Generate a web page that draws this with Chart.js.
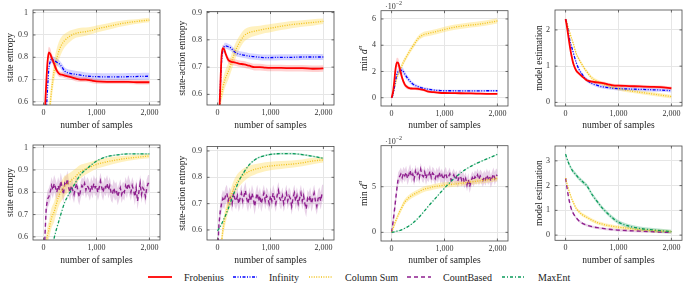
<!DOCTYPE html>
<html>
<head>
<meta charset="utf-8">
<script src="https://cdn.jsdelivr.net/npm/chart.js@4.4.0/dist/chart.umd.min.js"></script>
<style>
  body { margin: 0; background: #fff; }
  #wrap { position: relative; width: 687px; height: 293px; font-family: 'Liberation Serif', serif; color: #222; }
  canvas { position: absolute; }
  .scale10 { position: absolute; font-size: 8px; color: #333; }
  .scale10 sup { font-size: 6px; }
  .lg { position: absolute; top: 270px; height: 14px; display: flex; align-items: center; font-size: 10px; }
  .lg span { margin-left: 12px; }
</style>
</head>
<body>
<div id="wrap">
  <canvas id="c1" width="172" height="135" style="left:0;top:0"></canvas>
  <canvas id="c2" width="172" height="135" style="left:172px;top:0"></canvas>
  <canvas id="c3" width="172" height="135" style="left:344px;top:0"></canvas>
  <canvas id="c4" width="171" height="135" style="left:516px;top:0"></canvas>
  <canvas id="c5" width="172" height="135" style="left:0;top:135px"></canvas>
  <canvas id="c6" width="172" height="135" style="left:172px;top:135px"></canvas>
  <canvas id="c7" width="172" height="135" style="left:344px;top:135px"></canvas>
  <canvas id="c8" width="171" height="135" style="left:516px;top:135px"></canvas>
  <div class="scale10" style="left:385px;top:0px">·10<sup>−2</sup></div>
  <div class="scale10" style="left:385px;top:135px">·10<sup>−2</sup></div>

  <div class="lg" style="left:148px"><svg width="24" height="6"><line x1="0" y1="3" x2="24" y2="3" stroke="#ff0000" stroke-width="1.8"/></svg><span>Frobenius</span></div>
  <div class="lg" style="left:233px"><svg width="24" height="6"><line x1="0" y1="3" x2="24" y2="3" stroke="#0000ff" stroke-width="1.3" stroke-dasharray="3 1.5 1 1.5 1 1.5"/></svg><span>Infinity</span></div>
  <div class="lg" style="left:309px"><svg width="24" height="6"><line x1="0" y1="3" x2="24" y2="3" stroke="#f2c21b" stroke-width="1.3" stroke-dasharray="1 1.4"/></svg><span>Column Sum</span></div>
  <div class="lg" style="left:407px"><svg width="24" height="6"><line x1="0" y1="3" x2="24" y2="3" stroke="#8e1f8e" stroke-width="1.4" stroke-dasharray="4 3"/></svg><span>CountBased</span></div>
  <div class="lg" style="left:502px"><svg width="24" height="6"><line x1="0" y1="3" x2="24" y2="3" stroke="#0a9a5a" stroke-width="1.3" stroke-dasharray="3 2 1 2"/></svg><span>MaxEnt</span></div>
</div>

<script>
// x grids (number of samples)
const samples = [0, 25, 50, 75, 100, 125, 150, 200, 250, 300, 350, 400, 500, 600, 700, 800, 900, 1000, 1200, 1400, 1600, 1800, 2000];
const samplesDense = [0, 25, 50, 75, 100, 125, 150, 175, 200, 225, 250, 275, 300, 325, 350, 375, 400, 425, 450, 475,
  500, 525, 550, 575, 600, 625, 650, 675, 700, 725, 750, 775, 800, 825, 850, 875, 900, 925, 950, 975,
  1000, 1025, 1050, 1075, 1100, 1125, 1150, 1175, 1200, 1225, 1250, 1275, 1300, 1325, 1350, 1375, 1400, 1425, 1450, 1475,
  1500, 1525, 1550, 1575, 1600, 1625, 1650, 1675, 1700, 1725, 1750, 1775, 1800, 1825, 1850, 1875, 1900, 1925, 1950, 1975, 2000];
const xTicks = [0, 1000, 2000];

// top row: state entropy
const stEntFrob = [0.35, 0.55, 0.68, 0.78, 0.822, 0.815, 0.80, 0.77, 0.74, 0.725, 0.722, 0.718, 0.712, 0.705, 0.70, 0.70, 0.696, 0.692, 0.69, 0.69, 0.69, 0.688, 0.688];
const stEntFrobSd = [0.02, 0.02, 0.02, 0.025, 0.025, 0.025, 0.02, 0.018, 0.015, 0.013, 0.012, 0.012, 0.012, 0.012, 0.011, 0.011, 0.011, 0.011, 0.01, 0.01, 0.01, 0.01, 0.01];
const stEntInf = [0.30, 0.42, 0.55, 0.66, 0.75, 0.78, 0.79, 0.785, 0.778, 0.77, 0.755, 0.738, 0.728, 0.724, 0.72, 0.716, 0.714, 0.713, 0.712, 0.712, 0.713, 0.714, 0.715];
const stEntInfSd = 0.016;
const stEntCol = [0.30, 0.35, 0.42, 0.48, 0.54, 0.59, 0.65, 0.74, 0.795, 0.835, 0.86, 0.875, 0.895, 0.907, 0.912, 0.915, 0.92, 0.927, 0.937, 0.948, 0.956, 0.962, 0.967];
const stEntColSd = [0.03, 0.03, 0.035, 0.04, 0.045, 0.045, 0.045, 0.045, 0.045, 0.04, 0.035, 0.03, 0.025, 0.02, 0.02, 0.018, 0.017, 0.016, 0.015, 0.013, 0.012, 0.01, 0.01];

// top row: state-action entropy
const saEntFrob = [0.40, 0.50, 0.62, 0.74, 0.77, 0.765, 0.75, 0.727, 0.72, 0.718, 0.716, 0.713, 0.71, 0.705, 0.70, 0.70, 0.698, 0.697, 0.697, 0.696, 0.696, 0.694, 0.695];
const saEntFrobSd = 0.012;
const saEntInf = [0.40, 0.50, 0.62, 0.72, 0.76, 0.775, 0.778, 0.775, 0.77, 0.76, 0.752, 0.748, 0.744, 0.74, 0.738, 0.736, 0.735, 0.735, 0.736, 0.736, 0.737, 0.737, 0.737];
const saEntInfSd = 0.011;
const saEntCol = [0.45, 0.52, 0.57, 0.60, 0.625, 0.645, 0.66, 0.683, 0.71, 0.74, 0.765, 0.785, 0.815, 0.827, 0.832, 0.836, 0.84, 0.843, 0.85, 0.856, 0.86, 0.864, 0.868];
const saEntColSd = [0.02, 0.02, 0.025, 0.025, 0.03, 0.03, 0.03, 0.03, 0.03, 0.03, 0.028, 0.025, 0.022, 0.02, 0.018, 0.016, 0.015, 0.015, 0.014, 0.013, 0.012, 0.012, 0.01];

// top row: min d^pi (x 10^-2)
const minDFrob = [0, 0.4, 1.2, 2.2, 2.7, 2.65, 2.3, 1.5, 1.0, 0.8, 0.72, 0.7, 0.68, 0.6, 0.46, 0.42, 0.38, 0.36, 0.35, 0.33, 0.32, 0.3, 0.3];
const minDFrobSd = [0.1, 0.2, 0.3, 0.35, 0.35, 0.35, 0.3, 0.25, 0.2, 0.15, 0.12, 0.12, 0.12, 0.1, 0.1, 0.09, 0.08, 0.08, 0.08, 0.08, 0.08, 0.08, 0.08];
const minDInf = [0, 0.2, 0.7, 1.3, 1.8, 2.0, 2.05, 2.1, 1.8, 1.5, 1.25, 1.05, 0.85, 0.72, 0.64, 0.58, 0.55, 0.53, 0.53, 0.52, 0.52, 0.53, 0.53];
const minDInfSd = [0.1, 0.15, 0.2, 0.25, 0.25, 0.25, 0.25, 0.25, 0.22, 0.2, 0.18, 0.15, 0.12, 0.1, 0.1, 0.08, 0.08, 0.08, 0.08, 0.08, 0.08, 0.08, 0.08];
const minDCol = [0, 0.3, 0.7, 1.1, 1.5, 1.8, 2.0, 2.5, 2.9, 3.25, 3.6, 3.9, 4.5, 4.8, 4.9, 5.0, 5.1, 5.2, 5.38, 5.5, 5.58, 5.7, 5.85];
const minDColSd = 0.2;

// top row: model estimation
const modelFrob = [2.3, 2.1, 1.85, 1.6, 1.38, 1.2, 1.05, 0.88, 0.8, 0.73, 0.67, 0.61, 0.57, 0.55, 0.53, 0.5, 0.47, 0.46, 0.45, 0.44, 0.43, 0.42, 0.39];
const modelFrobSd = 0.045;
const modelInf = [2.3, 2.15, 1.95, 1.75, 1.6, 1.48, 1.35, 1.1, 0.92, 0.8, 0.7, 0.62, 0.52, 0.47, 0.43, 0.41, 0.39, 0.38, 0.37, 0.36, 0.35, 0.34, 0.32];
const modelInfSd = 0.05;
const modelCol = [2.3, 2.2, 2.05, 1.95, 1.82, 1.72, 1.6, 1.35, 1.2, 1.07, 0.95, 0.85, 0.67, 0.58, 0.51, 0.46, 0.41, 0.38, 0.32, 0.28, 0.24, 0.2, 0.16];
const modelColSd = 0.05;

// bottom row: state entropy
const stEntMax = [0.2, 0.25, 0.3, 0.36, 0.42, 0.48, 0.53, 0.595, 0.64, 0.68, 0.72, 0.755, 0.8, 0.842, 0.88, 0.902, 0.922, 0.94, 0.96, 0.968, 0.972, 0.972, 0.972];
const stEntMaxSd = 0.003;
const stEntCol2 = [0.4, 0.5, 0.57, 0.61, 0.63, 0.66, 0.685, 0.713, 0.755, 0.79, 0.81, 0.828, 0.848, 0.87, 0.893, 0.905, 0.915, 0.925, 0.937, 0.946, 0.953, 0.958, 0.963];
const stEntCol2Sd = [0.03, 0.03, 0.035, 0.04, 0.04, 0.045, 0.045, 0.045, 0.045, 0.045, 0.045, 0.045, 0.04, 0.035, 0.03, 0.025, 0.022, 0.02, 0.018, 0.015, 0.012, 0.01, 0.01];
const stEntCount = [0.30, 0.60, 0.73, 0.77, 0.78, 0.80, 0.83, 0.81, 0.84, 0.82, 0.80, 0.83, 0.81, 0.85, 0.82, 0.79, 0.84, 0.83, 0.86, 0.82,
  0.80, 0.83, 0.81, 0.79, 0.82, 0.84, 0.80, 0.78, 0.81, 0.83, 0.82, 0.84, 0.81, 0.83, 0.82, 0.80, 0.83, 0.81, 0.84, 0.82,
  0.83, 0.80, 0.82, 0.85, 0.82, 0.80, 0.83, 0.82, 0.84, 0.81, 0.83, 0.80, 0.79, 0.82, 0.80, 0.81, 0.78, 0.80, 0.82, 0.79,
  0.81, 0.80, 0.83, 0.81, 0.84, 0.82, 0.80, 0.83, 0.81, 0.78, 0.82, 0.76, 0.80, 0.84, 0.79, 0.82, 0.81, 0.78, 0.82, 0.84, 0.84];
const stEntCountSd = 0.038;

// bottom row: state-action entropy
const saEntMax = [0.597, 0.605, 0.613, 0.622, 0.633, 0.645, 0.655, 0.68, 0.708, 0.735, 0.76, 0.785, 0.82, 0.848, 0.866, 0.877, 0.883, 0.887, 0.89, 0.89, 0.886, 0.88, 0.872];
const saEntMaxSd = 0.003;
const saEntCol2 = [0.45, 0.5, 0.53, 0.556, 0.6, 0.63, 0.655, 0.695, 0.725, 0.755, 0.775, 0.79, 0.81, 0.823, 0.83, 0.835, 0.84, 0.843, 0.847, 0.85, 0.855, 0.862, 0.866];
const saEntCol2Sd = [0.02, 0.02, 0.025, 0.025, 0.03, 0.03, 0.03, 0.03, 0.03, 0.03, 0.03, 0.028, 0.025, 0.022, 0.02, 0.018, 0.017, 0.016, 0.015, 0.014, 0.013, 0.012, 0.01];
const saEntCount = [0.50, 0.62, 0.67, 0.70, 0.72, 0.71, 0.73, 0.74, 0.71, 0.73, 0.72, 0.70, 0.74, 0.72, 0.71, 0.73, 0.70, 0.72, 0.74, 0.71,
  0.73, 0.75, 0.72, 0.70, 0.73, 0.71, 0.74, 0.72, 0.69, 0.72, 0.74, 0.71, 0.73, 0.70, 0.72, 0.74, 0.71, 0.73, 0.72, 0.70,
  0.73, 0.71, 0.74, 0.72, 0.70, 0.73, 0.75, 0.72, 0.71, 0.73, 0.70, 0.72, 0.74, 0.71, 0.73, 0.72, 0.69, 0.72, 0.74, 0.71,
  0.73, 0.70, 0.72, 0.74, 0.71, 0.73, 0.70, 0.68, 0.72, 0.71, 0.73, 0.70, 0.72, 0.74, 0.71, 0.69, 0.72, 0.73, 0.71, 0.74, 0.74];
const saEntCountSd = 0.032;

// bottom row: min d^pi (x 10^-2)
const minDMax = [0, 0.02, 0.05, 0.09, 0.13, 0.17, 0.2, 0.3, 0.45, 0.6, 0.8, 1.0, 1.55, 2.2, 2.9, 3.55, 4.2, 4.85, 6.0, 6.9, 7.55, 8.05, 8.55];
const minDMaxSd = 0.05;
const minDCol2 = [0, 0.4, 0.8, 1.2, 1.55, 1.9, 2.2, 2.8, 3.35, 3.65, 3.9, 4.1, 4.4, 4.7, 4.85, 5.0, 5.1, 5.18, 5.3, 5.45, 5.6, 5.75, 5.9];
const minDCol2Sd = 0.3;
const minDCount = [0, 1.0, 2.2, 3.5, 4.8, 5.9, 6.1, 6.4, 6.0, 6.5, 6.2, 6.6, 5.9, 6.3, 6.8, 6.1, 6.4, 5.8, 6.7, 6.2,
  6.5, 6.0, 6.9, 6.3, 6.1, 6.6, 5.9, 6.4, 6.2, 6.7, 6.0, 6.5, 6.3, 5.9, 6.4, 6.1, 6.6, 6.0, 6.3, 5.8,
  6.2, 6.5, 5.9, 6.1, 6.4, 5.7, 6.0, 6.3, 5.8, 6.1, 5.6, 6.0, 6.2, 5.7, 6.0, 5.5, 5.9, 5.2, 5.8, 5.0,
  5.6, 6.0, 5.7, 6.1, 5.9, 6.3, 5.8, 6.2, 6.0, 5.7, 6.1, 5.8, 6.3, 5.9, 6.2, 5.6, 6.0, 6.4, 5.9, 6.3, 6.2];
const minDCountSd = 0.7;

// bottom row: model estimation
const modelMax = [3.27, 3.1, 2.95, 2.82, 2.72, 2.62, 2.55, 2.43, 2.3, 2.2, 2.1, 2.0, 1.64, 1.35, 1.08, 0.86, 0.67, 0.52, 0.36, 0.27, 0.22, 0.18, 0.14];
const modelMaxSd = 0.08;
const modelCol2 = [2.3, 2.1, 1.9, 1.72, 1.57, 1.42, 1.3, 1.08, 0.95, 0.85, 0.78, 0.72, 0.6, 0.5, 0.44, 0.39, 0.35, 0.32, 0.27, 0.22, 0.19, 0.16, 0.14];
const modelCol2Sd = 0.07;
const modelCount = [2.3, 1.95, 1.6, 1.33, 1.12, 0.97, 0.86, 0.7, 0.58, 0.5, 0.44, 0.4, 0.34, 0.3, 0.27, 0.24, 0.22, 0.2, 0.18, 0.16, 0.14, 0.12, 0.11];
const modelCountSd = 0.05;

// y tick labels per panel
const ticksStEnt = [0.6, 0.7, 0.8, 0.9, 1];
const ticksSaEnt = [0.6, 0.7, 0.8, 0.9];
const ticksMinDTop = [0, 2, 4, 6];
const ticksMinDBottom = [0, 5];
const ticksModelTop = [0, 1, 2];
const ticksModelBottom = [0, 1, 2, 3];

const styles = {
  frob:  { color: '#ff0000', band: 'rgba(255,0,0,0.18)', width: 1.8, dash: [] },
  inf:   { color: '#0000ff', band: 'rgba(40,40,255,0.2)', width: 1.3, dash: [3, 1.5, 1, 1.5, 1, 1.5] },
  col:   { color: '#f2c21b', band: 'rgba(255,214,70,0.35)', width: 1.3, dash: [1, 1.4] },
  count: { color: '#8e1f8e', band: 'rgba(142,31,142,0.2)', width: 1.4, dash: [4, 3] },
  maxent:{ color: '#0a9a5a', band: 'rgba(10,154,90,0.28)', width: 1.3, dash: [3, 2, 1, 2] }
};

const tickFont = { family: "'Liberation Serif', serif", size: 8 };
const titleFont = { family: "'Liberation Serif', serif", size: 9.5 };
const gridColor = '#e6e6e6';

function series(xs, ys, sd, st, smooth) {
  const spread = i => Array.isArray(sd) ? sd[i] : sd;
  const mode = smooth ? 'monotone' : 'default';
  const line = {
    data: xs.map((x, i) => ({ x: x, y: ys[i] })),
    borderColor: st.color, borderWidth: st.width, borderDash: st.dash,
    pointRadius: 0, fill: false, cubicInterpolationMode: mode, tension: 0
  };
  const hi = {
    data: xs.map((x, i) => ({ x: x, y: ys[i] + spread(i) })),
    borderWidth: 0, pointRadius: 0, fill: '+1', backgroundColor: st.band,
    cubicInterpolationMode: mode, tension: 0
  };
  const lo = {
    data: xs.map((x, i) => ({ x: x, y: ys[i] - spread(i) })),
    borderWidth: 0, pointRadius: 0, fill: false,
    cubicInterpolationMode: mode, tension: 0
  };
  return { line, bands: [hi, lo] };
}

// lines first so they sit on top, bands after them
function buildDatasets(list) {
  const lines = list.map(s => s.line);
  const bands = [];
  list.forEach(s => bands.push(...s.bands));
  return lines.concat(bands);
}

const framePlugin = {
  id: 'frame',
  afterDraw(chart) {
    const { ctx, chartArea: a, scales } = chart;
    ctx.save();
    ctx.strokeStyle = '#4a4a4a';
    ctx.lineWidth = 0.8;
    ctx.strokeRect(a.left, a.top, a.right - a.left, a.bottom - a.top);
    ctx.beginPath();
    scales.x.ticks.forEach(t => {
      const px = scales.x.getPixelForValue(t.value);
      ctx.moveTo(px, a.bottom); ctx.lineTo(px, a.bottom - 2.5);
      ctx.moveTo(px, a.top); ctx.lineTo(px, a.top + 2.5);
    });
    scales.y.ticks.forEach(t => {
      const py = scales.y.getPixelForValue(t.value);
      ctx.moveTo(a.left, py); ctx.lineTo(a.left + 2.5, py);
      ctx.moveTo(a.right, py); ctx.lineTo(a.right - 2.5, py);
    });
    ctx.stroke();
    ctx.restore();
  }
};

const yTitlePlugin = {
  id: 'ytitle',
  afterDraw(chart, args, opts) {
    const { ctx, chartArea: a } = chart;
    const parts = opts.parts;
    ctx.save();
    ctx.translate(opts.x, (a.top + a.bottom) / 2);
    ctx.rotate(-Math.PI / 2);
    ctx.fillStyle = '#222';
    ctx.textBaseline = 'middle';
    const fontOf = p => (p.italic ? 'italic ' : '') + (p.sup ? '7px' : '9.5px') + " 'Liberation Serif', serif";
    let total = 0;
    parts.forEach(p => { ctx.font = fontOf(p); total += ctx.measureText(p.text).width; });
    let cx = -total / 2;
    parts.forEach(p => {
      ctx.font = fontOf(p);
      ctx.fillText(p.text, cx, p.sup ? -4 : 0);
      cx += ctx.measureText(p.text).width;
    });
    ctx.restore();
  }
};

function makePanel(id, cfg) {
  new Chart(document.getElementById(id), {
    type: 'line',
    data: { datasets: cfg.datasets },
    options: {
      responsive: false,
      animation: false,
      layout: { padding: { left: 0, top: cfg.top, right: cfg.right, bottom: 0 } },
      plugins: {
        legend: { display: false },
        tooltip: { enabled: false },
        ytitle: { parts: cfg.title, x: cfg.titleX }
      },
      scales: {
        x: {
          type: 'linear', min: -200, max: 2200,
          afterBuildTicks: s => { s.ticks = xTicks.map(v => ({ value: v })); },
          afterFit: s => { s.height = cfg.xh; },
          grid: { color: gridColor, drawTicks: false },
          border: { display: false },
          ticks: { padding: 3, font: tickFont, color: '#333', autoSkip: false, maxRotation: 0,
                   callback: v => v.toLocaleString('en-US') },
          title: { display: true, text: 'number of samples', font: titleFont, color: '#222', padding: { top: 0, bottom: 4 } }
        },
        y: {
          type: 'linear', min: cfg.ymin, max: cfg.ymax,
          afterBuildTicks: s => { s.ticks = cfg.yTicks.map(v => ({ value: v })); },
          afterFit: s => { s.width = cfg.left; },
          grid: { color: gridColor, drawTicks: false },
          border: { display: false },
          ticks: { padding: 5, font: tickFont, color: '#333', autoSkip: false, callback: v => String(v) }
        }
      }
    },
    plugins: [framePlugin, yTitlePlugin]
  });
}

const titleStEnt = [{ text: 'state entropy' }];
const titleSaEnt = [{ text: 'state-action entropy' }];
const titleMinD = [{ text: 'min ' }, { text: 'd', italic: true }, { text: 'π', italic: true, sup: true }];
const titleModel = [{ text: 'model estimation' }];

makePanel('c1', {
  left: 33, top: 10, right: 12, xh: 30, ymin: 0.586, ymax: 1.012, yTicks: ticksStEnt, title: titleStEnt, titleX: 10,
  datasets: buildDatasets([
    series(samples, stEntFrob, stEntFrobSd, styles.frob, true),
    series(samples, stEntInf, stEntInfSd, styles.inf, true),
    series(samples, stEntCol, stEntColSd, styles.col, true)
  ])
});
makePanel('c2', {
  left: 35, top: 11.5, right: 10, xh: 30, ymin: 0.561, ymax: 0.904, yTicks: ticksSaEnt, title: titleSaEnt, titleX: 10,
  datasets: buildDatasets([
    series(samples, saEntFrob, saEntFrobSd, styles.frob, true),
    series(samples, saEntInf, saEntInfSd, styles.inf, true),
    series(samples, saEntCol, saEntColSd, styles.col, true)
  ])
});
makePanel('c3', {
  left: 37, top: 10.7, right: 8, xh: 29, ymin: -0.63, ymax: 6.63, yTicks: ticksMinDTop, title: titleMinD, titleX: 20,
  datasets: buildDatasets([
    series(samples, minDFrob, minDFrobSd, styles.frob, true),
    series(samples, minDInf, minDInfSd, styles.inf, true),
    series(samples, minDCol, minDColSd, styles.col, true)
  ])
});
makePanel('c4', {
  left: 39, top: 10, right: 5, xh: 29, ymin: -0.1, ymax: 2.55, yTicks: ticksModelTop, title: titleModel, titleX: 23,
  datasets: buildDatasets([
    series(samples, modelFrob, modelFrobSd, styles.frob, true),
    series(samples, modelInf, modelInfSd, styles.inf, true),
    series(samples, modelCol, modelColSd, styles.col, true)
  ])
});
makePanel('c5', {
  left: 33, top: 10, right: 12, xh: 30, ymin: 0.586, ymax: 1.012, yTicks: ticksStEnt, title: titleStEnt, titleX: 10,
  datasets: buildDatasets([
    series(samples, stEntMax, stEntMaxSd, styles.maxent, true),
    series(samples, stEntCol2, stEntCol2Sd, styles.col, true),
    series(samplesDense, stEntCount, stEntCountSd, styles.count, false)
  ])
});
makePanel('c6', {
  left: 35, top: 11.5, right: 10, xh: 30, ymin: 0.562, ymax: 0.917, yTicks: ticksSaEnt, title: titleSaEnt, titleX: 10,
  datasets: buildDatasets([
    series(samples, saEntMax, saEntMaxSd, styles.maxent, true),
    series(samples, saEntCol2, saEntCol2Sd, styles.col, true),
    series(samplesDense, saEntCount, saEntCountSd, styles.count, false)
  ])
});
makePanel('c7', {
  left: 37, top: 10.7, right: 8, xh: 29, ymin: -0.95, ymax: 9.5, yTicks: ticksMinDBottom, title: titleMinD, titleX: 20,
  datasets: buildDatasets([
    series(samples, minDMax, minDMaxSd, styles.maxent, true),
    series(samples, minDCol2, minDCol2Sd, styles.col, true),
    series(samplesDense, minDCount, minDCountSd, styles.count, false)
  ])
});
makePanel('c8', {
  left: 39, top: 11, right: 5, xh: 29.7, ymin: -0.21, ymax: 3.6, yTicks: ticksModelBottom, title: titleModel, titleX: 23,
  datasets: buildDatasets([
    series(samples, modelMax, modelMaxSd, styles.maxent, true),
    series(samples, modelCol2, modelCol2Sd, styles.col, true),
    series(samples, modelCount, modelCountSd, styles.count, true)
  ])
});
</script>
</body>
</html>
